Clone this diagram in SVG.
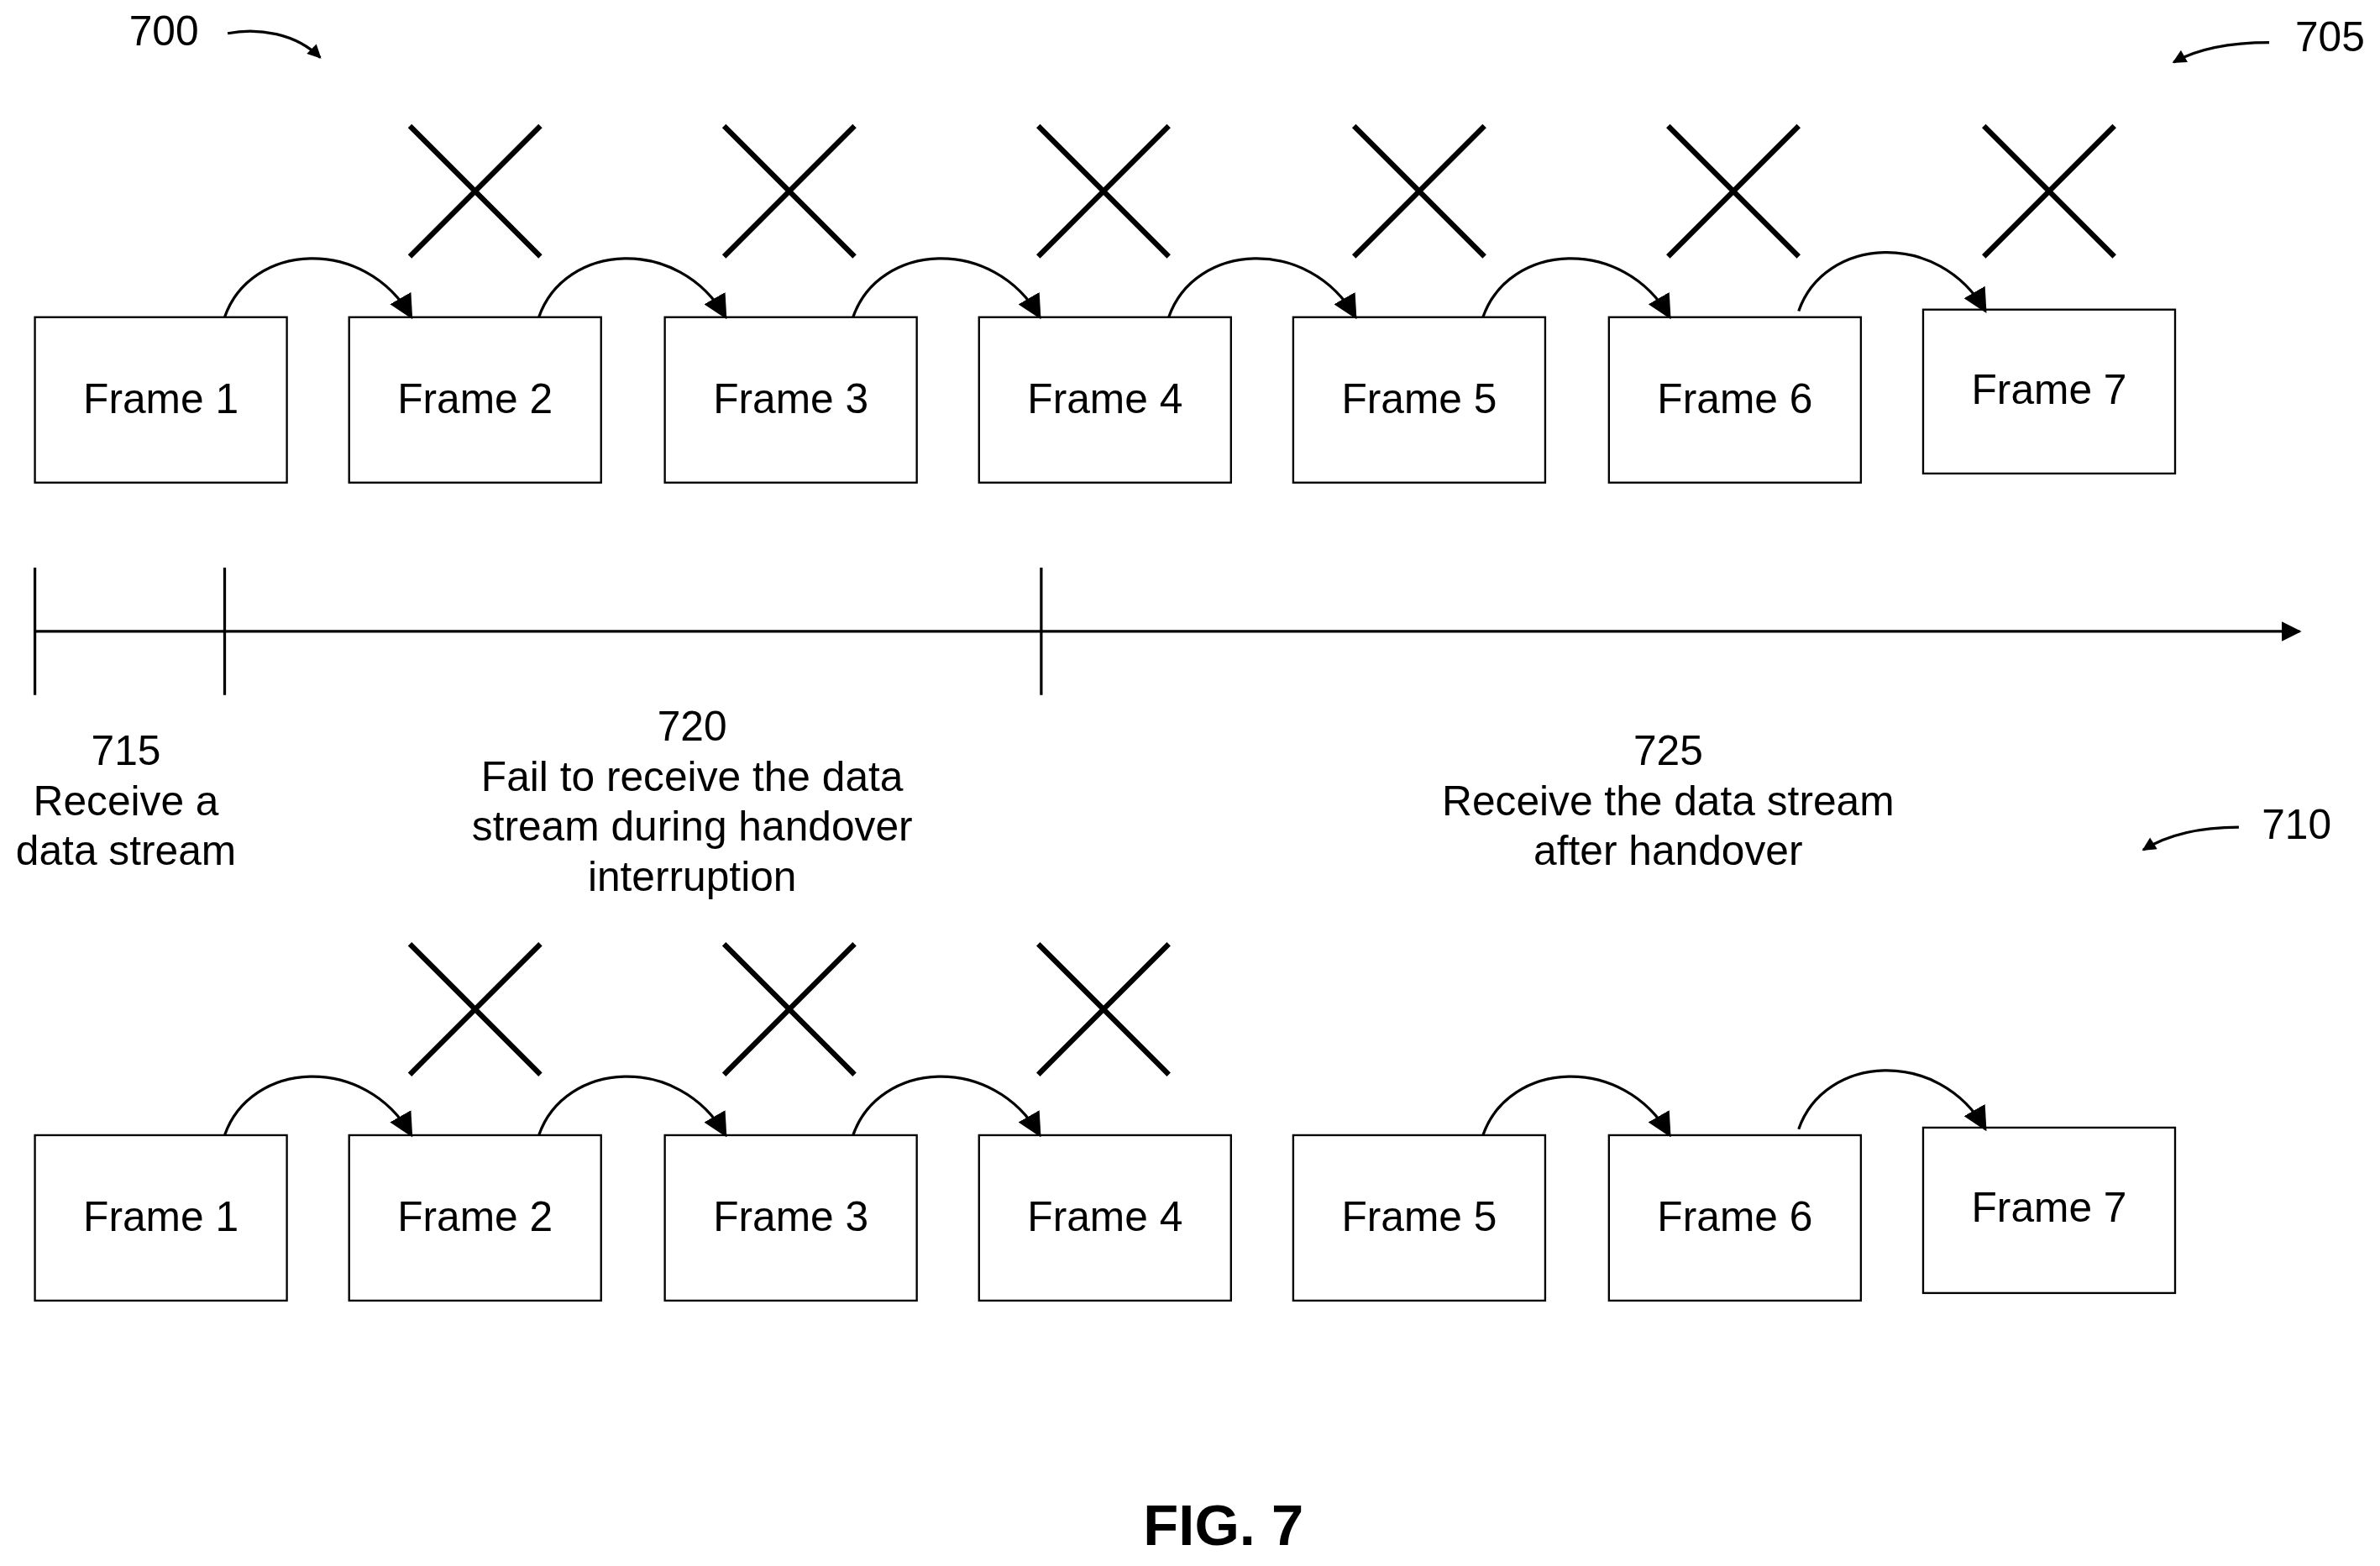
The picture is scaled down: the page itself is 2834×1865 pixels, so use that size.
<svg xmlns="http://www.w3.org/2000/svg" width="2834" height="1865" viewBox="0 0 2834 1865">
<defs>
<style>
.box{fill:#fff;stroke:#000;stroke-width:1.3}
.t{font-family:"Liberation Sans",Arial,sans-serif;font-size:27.5px;text-anchor:middle;fill:#000}
.ln{fill:none;stroke:#000;stroke-width:1.8}
.x{stroke:#000;stroke-width:3.5}
</style>
<marker id="ah" viewBox="0 0 10 10" refX="9" refY="5" markerWidth="10" markerHeight="9" orient="auto" markerUnits="userSpaceOnUse"><path d="M0,0 L10,5 L0,10 z" fill="#000"/></marker>
<marker id="ah2" viewBox="0 0 10 10" refX="9" refY="5" markerWidth="16" markerHeight="16" orient="auto" markerUnits="userSpaceOnUse"><path d="M0,0 L10,5 L0,10 z" fill="#000"/></marker>
<marker id="ah3" viewBox="0 0 10 10" refX="9" refY="5" markerWidth="24" markerHeight="13" orient="auto" markerUnits="userSpaceOnUse"><path d="M0,0 L10,5 L0,10 z" fill="#000"/></marker>
</defs>
<rect width="2834" height="1865" fill="#fff"/>
<g transform="scale(1.8074)">
<g id="top-row">
<g id="t1"><rect class="box" x="23" y="209" width="166" height="109"/><text class="t" x="106" y="272">Frame 1</text></g>
<g id="t2"><rect class="box" x="230" y="209" width="166" height="109"/><text class="t" x="313" y="272">Frame 2</text></g>
<g id="t3"><rect class="box" x="438" y="209" width="166" height="109"/><text class="t" x="521" y="272">Frame 3</text></g>
<g id="t4"><rect class="box" x="645" y="209" width="166" height="109"/><text class="t" x="728" y="272">Frame 4</text></g>
<g id="t5"><rect class="box" x="852" y="209" width="166" height="109"/><text class="t" x="935" y="272">Frame 5</text></g>
<g id="t6"><rect class="box" x="1060" y="209" width="166" height="109"/><text class="t" x="1143" y="272">Frame 6</text></g>
<g id="t7"><rect class="box" x="1267" y="204" width="166" height="108"/><text class="t" x="1350" y="266">Frame 7</text></g>
</g>
<g id="top-x">
<path class="x" d="M270,83 L356,169 M356,83 L270,169 M477,83 L563,169 M563,83 L477,169 M684,83 L770,169 M770,83 L684,169 M892,83 L978,169 M978,83 L892,169 M1099,83 L1185,169 M1185,83 L1099,169 M1307,83 L1393,169 M1393,83 L1307,169"/>
</g>
<g id="bottom-row">
<g id="b1"><rect class="box" x="23" y="748" width="166" height="109"/><text class="t" x="106" y="811">Frame 1</text></g>
<g id="b2"><rect class="box" x="230" y="748" width="166" height="109"/><text class="t" x="313" y="811">Frame 2</text></g>
<g id="b3"><rect class="box" x="438" y="748" width="166" height="109"/><text class="t" x="521" y="811">Frame 3</text></g>
<g id="b4"><rect class="box" x="645" y="748" width="166" height="109"/><text class="t" x="728" y="811">Frame 4</text></g>
<g id="b5"><rect class="box" x="852" y="748" width="166" height="109"/><text class="t" x="935" y="811">Frame 5</text></g>
<g id="b6"><rect class="box" x="1060" y="748" width="166" height="109"/><text class="t" x="1143" y="811">Frame 6</text></g>
<g id="b7"><rect class="box" x="1267" y="743" width="166" height="109"/><text class="t" x="1350" y="805">Frame 7</text></g>
</g>
<g id="bottom-x">
<path class="x" d="M270,622 L356,708 M356,622 L270,708 M477,622 L563,708 M563,622 L477,708 M684,622 L770,708 M770,622 L684,708"/>
</g>
<g id="connectors">
<path class="ln" marker-end="url(#ah2)" d="M148,209 C165,160 240,155 271,209"/>
<path class="ln" marker-end="url(#ah2)" d="M355,209 C372,160 447,155 478,209"/>
<path class="ln" marker-end="url(#ah2)" d="M562,209 C579,160 654,155 685,209"/>
<path class="ln" marker-end="url(#ah2)" d="M770,209 C787,160 862,155 893,209"/>
<path class="ln" marker-end="url(#ah2)" d="M977,209 C994,160 1069,155 1100,209"/>
<path class="ln" marker-end="url(#ah2)" d="M1185,205 C1202,156 1277,151 1308,205"/>
<path class="ln" marker-end="url(#ah2)" d="M148,748 C165,699 240,694 271,748"/>
<path class="ln" marker-end="url(#ah2)" d="M355,748 C372,699 447,694 478,748"/>
<path class="ln" marker-end="url(#ah2)" d="M562,748 C579,699 654,694 685,748"/>
<path class="ln" marker-end="url(#ah2)" d="M977,748 C994,699 1069,694 1100,748"/>
<path class="ln" marker-end="url(#ah2)" d="M1185,744 C1202,695 1277,690 1308,744"/>
<path class="ln" marker-end="url(#ah3)" d="M23,416 L1515,416"/>
<path class="ln" d="M23,374 L23,458 M148,374 L148,458 M686,374 L686,458"/>
<path class="ln" marker-end="url(#ah)" d="M150,22 C170,18 195,22 211,38"/>
<path class="ln" marker-end="url(#ah)" d="M1495,28 C1470,28 1448,32 1432,41"/>
<path class="ln" marker-end="url(#ah)" d="M1475,545 C1450,545 1428,550 1412,560"/>
</g>
<g id="labels">
<text class="t" x="108" y="30">700</text>
<text class="t" x="1535" y="34">705</text>
<text class="t" x="1513" y="553">710</text>
<text class="t" x="83" y="504">715</text>
<text class="t" x="83" y="537">Receive a</text>
<text class="t" x="83" y="570">data stream</text>
<text class="t" x="456" y="488">720</text>
<text class="t" x="456" y="521">Fail to receive the data</text>
<text class="t" x="456" y="554">stream during handover</text>
<text class="t" x="456" y="587">interruption</text>
<text class="t" x="1099" y="504">725</text>
<text class="t" x="1099" y="537">Receive the data stream</text>
<text class="t" x="1099" y="570">after handover</text>
<text class="t" x="806" y="1018" style="font-size:38px;font-weight:bold">FIG. 7</text>
</g>
</g>
</svg>
